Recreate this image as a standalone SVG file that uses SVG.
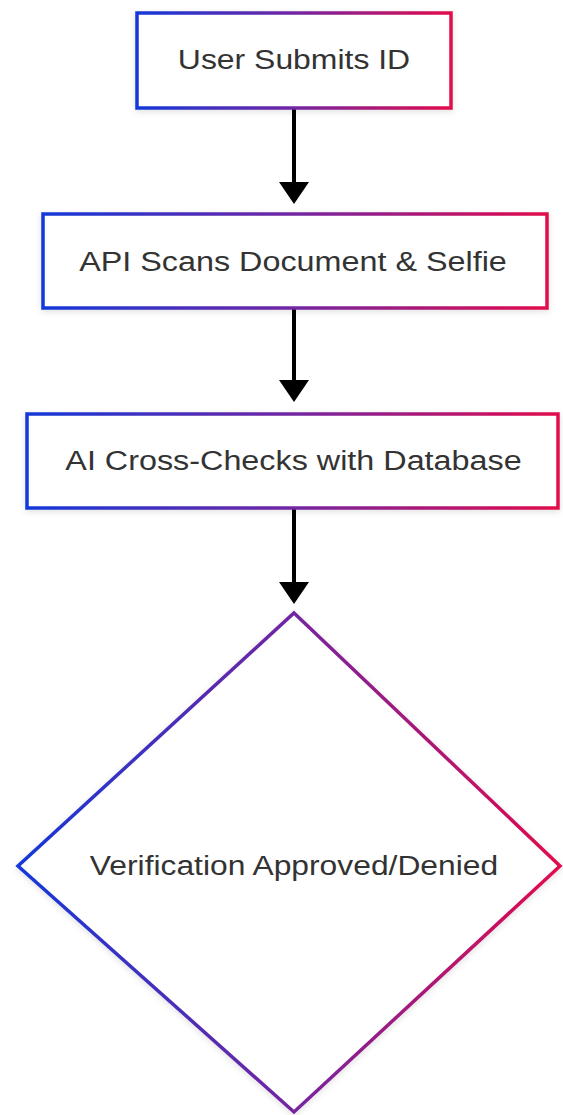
<svg xmlns="http://www.w3.org/2000/svg" width="563" height="1115" viewBox="0 0 563 1115">
  <style>
    .node-shape { fill: #ffffff; stroke: url(#edge-grad); stroke-width: 3.5; filter: url(#soft-shadow); }
    .label { font-family: "Liberation Sans", Arial, sans-serif; font-size: 28px; fill: #333333; text-anchor: middle; }
    .link { stroke: #000000; stroke-width: 4; fill: none; }
    .head { fill: #000000; }
  </style>
  <defs>
    <linearGradient id="edge-grad" x1="0" y1="0" x2="1" y2="0">
      <stop offset="0" stop-color="#1438d8"/>
      <stop offset="0.5" stop-color="#7226a2"/>
      <stop offset="1" stop-color="#e20a4c"/>
    </linearGradient>
    <filter id="soft-shadow" x="-10%" y="-10%" width="120%" height="120%">
      <feDropShadow dx="0" dy="2" stdDeviation="3" flood-color="#000000" flood-opacity="0.12"/>
    </filter>
  </defs>
  <rect width="563" height="1115" fill="#ffffff"/>

  <g id="connectors">
    <line class="link" x1="294" y1="108" x2="294" y2="184"/>
    <path class="head" d="M279,182 L309,182 L294,204 Z"/>
    <line class="link" x1="294" y1="308" x2="294" y2="382"/>
    <path class="head" d="M279,380 L309,380 L294,402 Z"/>
    <line class="link" x1="294" y1="508" x2="294" y2="584"/>
    <path class="head" d="M279,582 L309,582 L294,604 Z"/>
  </g>

  <g id="node-submit">
    <rect class="node-shape" x="137" y="13" width="314" height="95"/>
    <text class="label" transform="translate(294,69) scale(1.14,1)">User Submits ID</text>
  </g>

  <g id="node-scan">
    <rect class="node-shape" x="43" y="214" width="504" height="94"/>
    <text class="label" transform="translate(293,271) scale(1.155,1)">API Scans Document &amp; Selfie</text>
  </g>

  <g id="node-crosscheck">
    <rect class="node-shape" x="27" y="414" width="531" height="94"/>
    <text class="label" transform="translate(293.5,470) scale(1.155,1)">AI Cross-Checks with Database</text>
  </g>

  <g id="node-decision">
    <polygon class="node-shape" points="294,613 560,866 294,1112 18,866"/>
    <text class="label" transform="translate(294,875) scale(1.136,1)">Verification Approved/Denied</text>
  </g>
</svg>
